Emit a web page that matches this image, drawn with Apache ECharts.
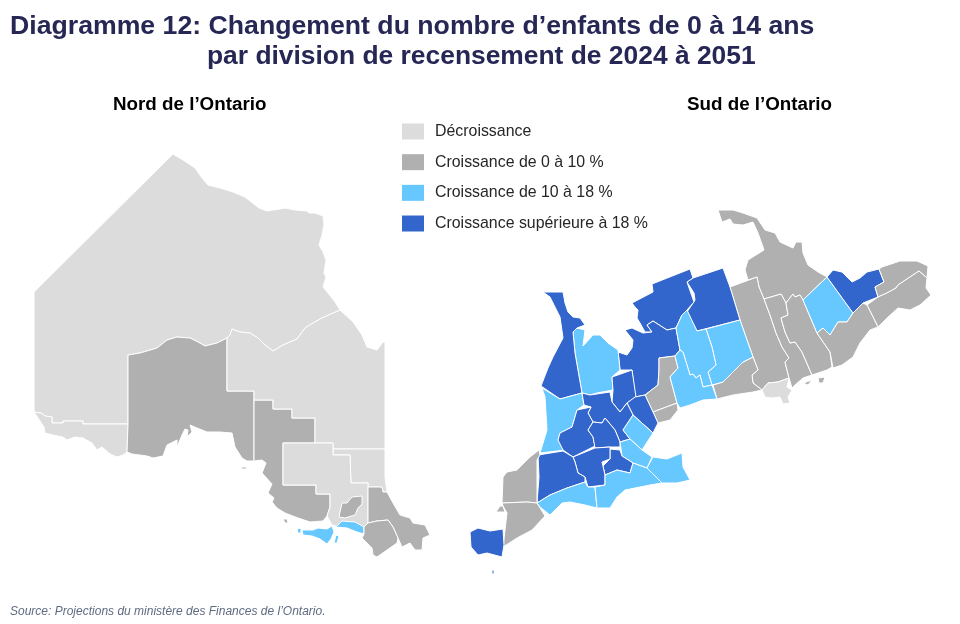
<!DOCTYPE html>
<html>
<head>
<meta charset="utf-8">
<style>html,body{margin:0;background:#fff}#main{width:960px;height:624px}</style>
<script src="https://cdn.jsdelivr.net/npm/echarts@6/dist/echarts.min.js"></script>
</head>
<body>
<div id="main"></div>
<script>
var legendLabels = ['Décroissance', 'Croissance de 0 à 10 %', 'Croissance de 10 à 18 %', 'Croissance supérieure à 18 %'];
var classColors = ['#dcdcdc', '#b0b0b0', '#66c8ff', '#3366cc'];

// classe de croissance par division (0 = décroissance ... 3 = plus de 18 %)
var northClasses = {
    kenora: 0, rainy: 0, thunder: 1, algoma: 1, cochrane: 0, timiskaming: 0, sudburyDist: 0,
    sudbury: 1, manitoulin: 2, strip: 2, nipissing: 1, parry: 1
};
var southClasses = {
    haliburton: 1, kawartha: 1, halton: 1, peterborough: 1, northumberland: 1, hastings: 2, renfrew: 3,
    ottawa: 1, stormont: 1, frontenac: 1, toronto: 0, dufferin: 3, simcoeE: 3, greyS: 2, bruce: 3,
    huron: 2, simcoe: 3, durhamW: 1, durhamS: 1, york: 2, peel: 2, wellington: 2, waterloo: 3,
    perth: 3, oxford: 3, halton2: 2, hamilton2: 2, niagara: 2, hamilton: 3, brant: 3, middlesex: 3,
    elgin: 2, norfolk: 2, lambton: 1, kent: 1, essex: 3, dufferinN: 3, wentworth: 3
};

// contours des divisions, en pixels de l'image
var outlines = {
    kenora: [[[34,292],[173,154],[183,160],[195,168],[202,178],[208,185],[220,188],[233,192],[245,197],[250,201],[259,208],[267,211],[280,209],[285,208],[295,210],[307,211],[309,213],[315,213],[323,216],[324,225],[322,235],[319,245],[323,252],[326,260],[324,273],[326,277],[323,287],[328,293],[335,302],[340,310],[322,318],[313,323],[305,328],[297,339],[283,345],[273,351],[265,345],[258,338],[250,333],[240,332],[232,329],[230,335],[227,338],[217,343],[205,346],[198,342],[190,338],[177,337],[167,340],[157,348],[140,353],[128,355],[128,424],[83,424],[83,421],[63,421],[63,423],[52,423],[52,417],[45,416],[41,413],[34,412]]],
    rainy: [[[34,412],[41,413],[45,416],[52,417],[52,423],[63,423],[63,421],[83,421],[83,424],[128,424],[127,452],[123,455],[117,457],[110,454],[102,447],[97,450],[92,443],[83,438],[75,437],[67,440],[63,437],[53,435],[45,433],[44,427]]],
    thunder: [[[128,355],[140,353],[157,348],[167,340],[177,337],[190,338],[198,342],[205,346],[217,343],[227,338],[227,391],[254,391],[254,461],[247,461],[242,458],[235,447],[232,433],[220,432],[207,432],[197,428],[190,425],[192,432],[187,437],[188,430],[185,429],[182,435],[177,447],[177,440],[167,445],[163,456],[153,458],[147,456],[132,454],[127,452],[128,424]],[[241,467],[247,467],[246,469],[242,469]]],
    algoma: [[[254,400],[273,400],[273,409],[292,409],[292,418],[315,418],[315,443],[283,443],[283,485],[316,485],[316,494],[330,494],[330,507],[327,516],[323,521],[310,522],[298,518],[285,513],[277,508],[272,502],[274,498],[268,493],[272,484],[262,473],[266,463],[262,460],[254,461]],[[283,519],[287,519],[288,523],[285,523]]],
    cochrane: [[[340,310],[322,318],[313,323],[305,328],[297,339],[283,345],[273,351],[265,345],[258,338],[250,333],[240,332],[232,329],[230,335],[227,338],[227,391],[254,391],[254,400],[273,400],[273,409],[292,409],[292,418],[315,418],[315,443],[333,443],[333,449],[385,449],[385,342],[383,342],[377,350],[367,347],[362,335],[353,322]]],
    timiskaming: [[[333,449],[385,449],[385,477],[387,492],[383,492],[382,487],[368,487],[368,483],[351,483],[350,455],[333,455]]],
    sudburyDist: [[[283,443],[333,443],[333,455],[350,455],[351,483],[368,483],[368,523],[363,528],[355,523],[344,522],[339,527],[332,525],[327,516],[330,507],[330,494],[316,494],[316,485],[283,485]]],
    sudbury: [[[347,503],[352,497],[362,496],[362,504],[358,508],[355,515],[345,518],[339,517],[340,512],[342,503]]],
    strip: [[[342,521],[355,522],[364,527],[364,534],[357,532],[347,528],[336,527]]],
    manitoulin: [[[302,530],[313,530],[318,528],[327,529],[332,526],[334,532],[331,539],[327,544],[320,539],[312,536],[303,535]],[[297,529],[301,528],[301,533],[298,533]],[[336,535],[339,536],[337,543],[334,543]]],
    nipissing: [[[368,487],[382,487],[383,492],[387,492],[393,503],[400,515],[410,518],[413,523],[425,525],[430,535],[423,538],[422,550],[415,550],[410,543],[402,547],[398,538],[393,527],[388,520],[377,521],[368,523]]],
    parry: [[[368,523],[377,521],[388,520],[393,527],[398,538],[397,543],[377,557],[373,555],[372,548],[362,538],[364,534],[364,527]]],

    haliburton: [[[718,210],[733,210],[743,213],[757,218],[765,230],[775,233],[780,242],[793,248],[796,242],[802,242],[803,253],[808,265],[818,272],[827,277],[803,300],[800,295],[795,297],[793,294],[786,303],[781,294],[764,299],[759,287],[757,277],[748,280],[745,270],[748,260],[764,250],[758,233],[753,222],[743,225],[733,224],[730,219],[722,222]]],
    kawartha: [[[730,287],[757,277],[759,287],[764,299],[770,315],[776,333],[782,347],[789,358],[785,362],[787,370],[789,378],[778,382],[768,383],[762,390],[753,383],[752,375],[758,370],[753,357],[740,320]]],
    halton: [[[713,385],[723,382],[735,370],[743,362],[753,357],[758,370],[752,375],[753,383],[762,390],[753,392],[733,395],[717,399]]],
    peterborough: [[[764,299],[781,294],[786,303],[788,315],[781,318],[785,332],[790,343],[795,342],[802,352],[812,375],[803,378],[795,385],[792,388],[789,378],[787,370],[785,362],[789,358],[782,347],[776,333],[770,315]]],
    northumberland: [[[786,303],[793,294],[795,297],[800,295],[803,300],[817,333],[830,352],[832,367],[827,370],[818,373],[812,375],[802,352],[795,342],[790,343],[785,332],[781,318],[788,315]]],
    hastings: [[[803,300],[827,277],[853,313],[847,322],[838,322],[830,335],[823,328],[817,333]]],
    renfrew: [[[827,277],[833,270],[842,272],[852,282],[860,278],[867,272],[879,269],[884,282],[875,287],[878,297],[863,303],[853,313]]],
    ottawa: [[[879,269],[882,267],[900,261],[917,261],[928,266],[927,278],[919,271],[910,277],[898,285],[896,288],[887,293],[878,297],[875,287],[884,282]]],
    stormont: [[[867,305],[878,297],[887,293],[896,288],[898,285],[910,277],[919,271],[927,278],[926,288],[931,295],[920,305],[910,310],[898,308],[887,318],[878,327]]],
    frontenac: [[[817,333],[823,328],[830,335],[838,322],[847,322],[853,313],[863,303],[867,305],[878,327],[870,330],[860,343],[853,357],[842,365],[833,368],[832,367],[830,352]],[[803,383],[812,380],[808,385]],[[818,378],[825,377],[823,383],[819,383]],[[825,375],[833,370],[828,373]]],
    toronto: [[[762,390],[768,383],[778,382],[789,378],[787,387],[792,390],[788,397],[790,403],[783,404],[780,397],[772,398],[765,397]]],
    dufferinN: [[[690,279],[723,268],[730,287],[740,320],[697,331],[687,312],[695,300],[694,293],[687,282],[693,278]]],
    dufferin: [[[632,303],[653,292],[652,284],[690,269],[693,278],[687,282],[694,302],[687,310],[682,315],[676,328],[667,330],[653,321],[647,325],[652,332],[645,332],[640,323],[637,318],[638,310],[635,307]]],
    simcoeE: [[[653,321],[667,330],[676,328],[680,350],[675,356],[659,358],[659,370],[658,385],[645,395],[635,397],[632,370],[620,370],[618,352],[627,355],[632,348],[633,340],[625,330],[632,328],[643,333],[652,332],[647,325]]],
    durhamW: [[[659,358],[675,356],[678,368],[670,377],[677,403],[653,412],[645,395],[658,385],[659,370]]],
    durhamS: [[[653,412],[677,403],[678,410],[670,420],[658,423]]],
    york: [[[706,329],[740,320],[753,357],[743,362],[735,370],[723,382],[712,385],[708,372],[716,365],[712,347]]],
    peel: [[[682,315],[687,310],[697,331],[706,329],[712,347],[716,365],[708,372],[712,385],[703,387],[700,375],[696,378],[693,374],[690,375],[683,352],[680,350],[676,328]]],
    wellington: [[[675,356],[680,350],[683,352],[690,375],[693,374],[696,378],[700,375],[703,387],[712,385],[717,399],[703,400],[690,405],[680,408],[677,403],[670,377],[678,368]]],
    greyS: [[[577,328],[585,330],[583,346],[593,335],[600,335],[608,343],[618,350],[620,370],[612,377],[613,390],[597,393],[590,395],[582,393],[575,353],[573,332]]],
    bruce: [[[543,292],[563,292],[565,303],[568,312],[573,317],[580,318],[585,325],[577,328],[573,332],[575,353],[582,393],[560,399],[541,386],[548,368],[553,357],[563,338],[560,317],[550,297]]],
    huron: [[[542,388],[560,399],[582,393],[584,405],[577,410],[572,427],[560,433],[558,440],[565,450],[540,453],[547,430],[545,397]]],
    simcoe: [[[612,377],[632,370],[636,397],[627,403],[620,412],[612,402],[613,390]]],
    wentworth: [[[627,403],[635,397],[645,395],[653,412],[658,423],[653,433],[633,415]]],
    waterloo: [[[582,393],[590,395],[610,392],[612,402],[620,412],[627,403],[633,415],[623,430],[630,439],[620,442],[615,430],[605,418],[602,423],[593,422],[588,413],[591,407],[584,405]]],
    perth: [[[577,410],[591,407],[588,413],[593,422],[588,430],[593,437],[595,446],[573,457],[563,450],[558,440],[560,433],[572,427]]],
    oxford: [[[593,422],[602,423],[605,418],[615,430],[620,442],[620,447],[610,447],[595,448],[593,437],[588,430]]],
    halton2: [[[623,430],[633,415],[653,433],[642,450],[630,439]]],
    hamilton2: [[[630,439],[642,450],[652,457],[647,468],[633,463],[622,456],[620,442]]],
    niagara: [[[653,457],[667,459],[682,453],[683,467],[690,480],[677,483],[662,483],[647,468]]],
    hamilton: [[[610,449],[620,450],[622,456],[633,463],[630,473],[617,470],[605,475],[603,466],[610,459]]],
    brant: [[[573,457],[595,448],[610,447],[610,459],[602,462],[605,475],[605,485],[588,487],[585,477],[578,473],[575,462]]],
    middlesex: [[[538,455],[563,451],[573,457],[575,462],[578,473],[585,477],[585,482],[567,488],[550,495],[537,503],[539,477]]],
    elgin: [[[537,503],[550,495],[567,488],[585,482],[588,487],[595,487],[597,508],[585,505],[570,502],[562,503],[550,515],[540,507]]],
    norfolk: [[[595,487],[605,485],[605,475],[617,470],[630,473],[633,463],[647,468],[662,483],[650,485],[640,487],[625,490],[617,497],[610,508],[597,508]]],
    lambton: [[[539,450],[540,455],[537,460],[537,503],[527,502],[502,503],[503,477],[507,472],[517,470],[530,457]]],
    kent: [[[502,503],[527,502],[537,503],[545,516],[532,530],[517,538],[503,547],[507,513],[503,506]],[[500,506],[503,506],[505,512],[496,512]]],
    essex: [[[470,532],[478,528],[490,531],[503,529],[504,545],[502,557],[487,553],[478,555],[471,547]],[[492,570],[494,570],[494,574],[492,574]]]
};

var features = [];
var regionData = [];
var classes = Object.assign({}, northClasses, southClasses);
Object.keys(outlines).forEach(function (name) {
    features.push({
        type: 'Feature',
        properties: { name: name },
        geometry: { type: 'MultiPolygon', coordinates: outlines[name].map(function (ring) { return [ring]; }) }
    });
    regionData.push({ name: name, value: classes[name] });
});
echarts.registerMap('ontario', { type: 'FeatureCollection', features: features });

var myChart = echarts.init(document.getElementById('main'), null, { renderer: 'canvas' });
var font = 'Liberation Sans';

var option = {
    animation: false,
    backgroundColor: '#fff',
    title: [
        { text: 'Diagramme 12: Changement du nombre d’enfants de 0 à 14 ans', left: 10, top: 13, padding: 0, textStyle: { fontFamily: font, fontSize: 26.67, fontWeight: 'bold', color: '#262755' } },
        { text: 'par division de recensement de 2024 à 2051', left: 207, top: 44, padding: 0, textStyle: { fontFamily: font, fontSize: 26.4, fontWeight: 'bold', color: '#262755' } },
        { text: 'Nord de l’Ontario', left: 113, top: 95, padding: 0, textStyle: { fontFamily: font, fontSize: 18.8, fontWeight: 'bold', color: '#000' } },
        { text: 'Sud de l’Ontario', left: 687, top: 95, padding: 0, textStyle: { fontFamily: font, fontSize: 18.8, fontWeight: 'bold', color: '#000' } },
        { text: 'Source: Projections du ministère des Finances de l’Ontario.', left: 10, top: 606, padding: 0, textStyle: { fontFamily: font, fontSize: 12, fontWeight: 'normal', fontStyle: 'italic', color: '#5f6b80' } }
    ],
    visualMap: {
        type: 'piecewise',
        seriesIndex: 0,
        left: 402,
        top: 123.5,
        orient: 'vertical',
        align: 'left',
        itemWidth: 22,
        itemHeight: 16,
        itemGap: 14.67,
        itemSymbol: 'rect',
        textGap: 11,
        selectedMode: false,
        padding: 0,
        inverse: true,
        textStyle: { fontFamily: font, fontSize: 15.9, color: '#262626' },
        pieces: legendLabels.map(function (label, i) {
            return { value: i, label: label, color: classColors[i] };
        })
    },
    series: [{
        type: 'map',
        map: 'ontario',
        projection: {
            project: function (p) { return [p[0], p[1]]; },
            unproject: function (p) { return [p[0], p[1]]; }
        },
        boundingCoords: [[0, 0], [960, 624]],
        left: 0,
        top: 0,
        width: 960,
        height: 624,
        silent: true,
        label: { show: false },
        itemStyle: { borderColor: '#fff', borderWidth: 1 },
        emphasis: { disabled: true },
        data: regionData
    }]
};
myChart.setOption(option);
</script>
</body>
</html>
